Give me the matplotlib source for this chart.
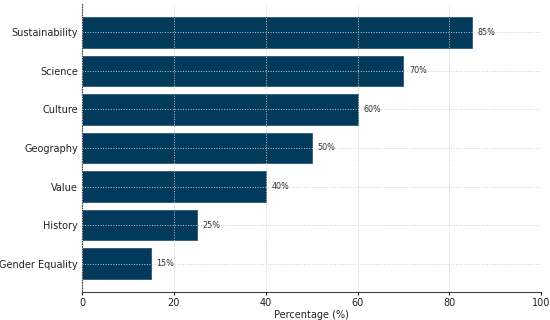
import matplotlib
matplotlib.use("Agg")
import matplotlib.pyplot as plt

categories = ["Gender Equality", "History", "Value", "Geography", "Culture", "Science", "Sustainability"]
values = [15, 25, 40, 50, 60, 70, 85]
xticks = [0, 20, 40, 60, 80, 100]

fig = plt.figure(figsize=(5.5, 3.2), dpi=100)
ax = fig.add_axes([0.149, 0.0875, 0.835, 0.9])

bars = ax.barh(categories, values, height=0.8, color="#023a5c",
               edgecolor="#2b5a78", linewidth=0.6)

for b, v in zip(bars, values):
    ax.text(b.get_width() + 1.2, b.get_y() + b.get_height() / 2, f"{v}%",
            va="center", ha="left", fontsize=5.8, color="#333333")

ax.set_xlim(0, 100)
ax.set_xticks(xticks)
ax.set_xlabel("Percentage (%)", fontsize=7, labelpad=2, color="#222222")
ax.tick_params(axis="x", labelsize=7, length=2, pad=2, colors="#222222")
ax.tick_params(axis="y", labelsize=7, length=0, pad=3, colors="#222222")
ax.grid(True, linestyle=":", color="#cccccc", linewidth=0.7)
ax.set_axisbelow(False)
ax.spines["top"].set_visible(False)
ax.spines["right"].set_visible(False)
for s in ("left", "bottom"):
    ax.spines[s].set_color("#444444")

fig.savefig("out.png", dpi=100)
